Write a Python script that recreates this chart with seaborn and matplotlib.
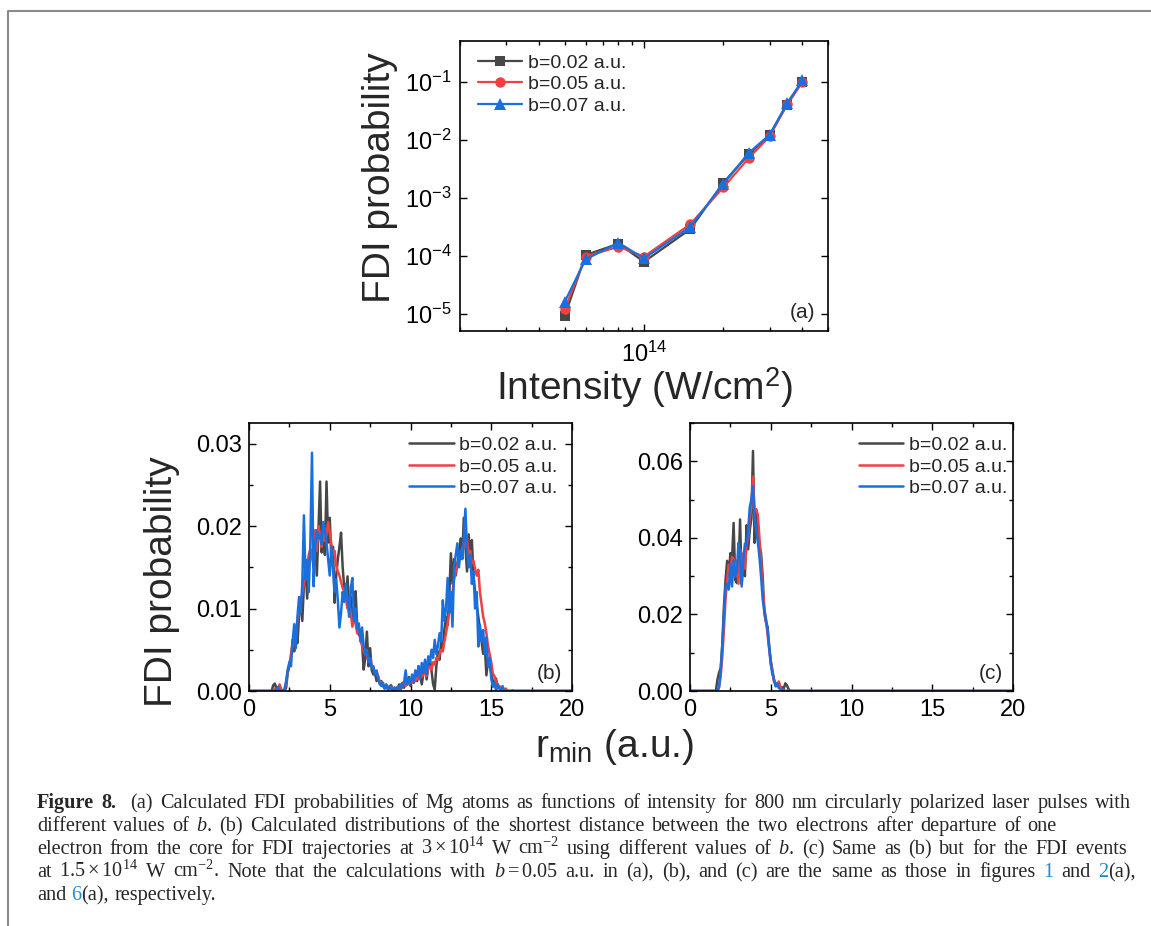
import numpy as np
import matplotlib.pyplot as plt
import seaborn as sns
from matplotlib.ticker import MultipleLocator, FormatStrFormatter, NullFormatter, NullLocator
from matplotlib.lines import Line2D

# ---- panel (a): FDI probability vs intensity ----
intensity = [5e13, 6e13, 8e13, 1e14, 1.5e14, 2e14, 2.5e14, 3e14, 3.5e14, 4e14]
fdi_b02 = [9.1e-6, 1.02e-4, 1.6e-4, 7.8e-5, 2.86e-4, 1.79e-3, 5.56e-3, 1.18e-2, 4.0e-2, 1.0e-1]
fdi_b05 = [1.19e-5, 9.6e-5, 1.42e-4, 9.6e-5, 3.48e-4, 1.49e-3, 4.8e-3, 1.13e-2, 4.1e-2, 1.0e-1]
fdi_b07 = [1.6e-5, 8.6e-5, 1.66e-4, 8.9e-5, 3.13e-4, 1.72e-3, 5.86e-3, 1.21e-2, 4.25e-2, 1.05e-1]

labels = ["b=0.02 a.u.", "b=0.05 a.u.", "b=0.07 a.u."]
colors = ["#474747", "#F14040", "#1A6FDF"]
markers = ["s", "o", "^"]

# ---- panel (b): r_min distribution at 3e14 W/cm2, bins 1.2 .. 16.8 step 0.1 ----
r_b = np.round(np.arange(1.2, 16.85, 0.1), 1)
dist_b02 = [
    0, 0, 0, 0.0007, 0.0009, 0.0003, 0, 0, 0, 0,
    0, 0.0004, 0.0022, 0.0030, 0.0040, 0.0062, 0.0048, 0.0075, 0.0058, 0.0092,
    0.0110, 0.0085, 0.0128, 0.0155, 0.0112, 0.0148, 0.0172, 0.0165, 0.0150, 0.0185,
    0.0140, 0.0195, 0.0254, 0.0168, 0.0190, 0.0165, 0.0254, 0.0180, 0.0210, 0.0160,
    0.0175, 0.0107, 0.0140, 0.0160, 0.0175, 0.0192, 0.0150, 0.0125, 0.0110, 0.0139,
    0.0098, 0.0115, 0.0085, 0.0100, 0.0121, 0.0080, 0.0068, 0.0072, 0.0058, 0.0026,
    0.0040, 0.0072, 0.0030, 0.0052, 0.0025, 0.0020, 0.0022, 0.0012, 0.0018, 0.0008,
    0.0012, 0.0006, 0.0003, 0.0008, 0.0002, 0.0005, 0.0007, 0.0002, 0.0004, 0,
    0.0003, 0.0008, 0.0002, 0.0010, 0.0004, 0.0012, 0.0008, 0.0017, 0.0006, 0.0015,
    0.0010, 0.0020, 0.0012, 0.0030, 0.0018, 0.0008, 0.0022, 0.0035, 0.0014, 0.0028,
    0.0040, 0.0025, 0.0008, 0.0002, 0.0030, 0.0048, 0.0038, 0.0060, 0.0052, 0.0075,
    0.0090, 0.0080, 0.0115, 0.0167, 0.0130, 0.0160, 0.0140, 0.0155, 0.0165, 0.0185,
    0.0160, 0.0210, 0.0175, 0.0145, 0.0190, 0.0160, 0.0183, 0.0140, 0.0120, 0.0105,
    0.0090, 0.0075, 0.0060, 0.0045, 0.0055, 0.0019, 0.0040, 0.0030, 0.0022, 0.0012,
    0.0008, 0.0015, 0.0004, 0.0006, 0, 0, 0, 0, 0, 0,
    0, 0, 0, 0, 0, 0, 0,
]
dist_b05 = [
    0, 0, 0, 0, 0.0003, 0, 0.0004, 0.0008, 0.0002, 0,
    0.0002, 0.0010, 0.0025, 0.0032, 0.0045, 0.0055, 0.0062, 0.0075, 0.0085, 0.0098,
    0.0105, 0.0118, 0.0130, 0.0142, 0.0150, 0.0165, 0.0172, 0.0160, 0.0178, 0.0195,
    0.0170, 0.0200, 0.0188, 0.0175, 0.0195, 0.0182, 0.0190, 0.0205, 0.0192, 0.0178,
    0.0165, 0.0170, 0.0152, 0.0145, 0.0140, 0.0132, 0.0125, 0.0120, 0.0112, 0.0100,
    0.0108, 0.0095, 0.0078, 0.0088, 0.0082, 0.0070, 0.0075, 0.0062, 0.0055, 0.0048,
    0.0050, 0.0042, 0.0036, 0.0040, 0.0030, 0.0028, 0.0022, 0.0025, 0.0016, 0.0012,
    0.0010, 0.0008, 0.0005, 0.0007, 0.0004, 0.0002, 0.0005, 0.0003, 0.0001, 0.0004,
    0.0002, 0.0005, 0.0003, 0.0007, 0.0010, 0.0006, 0.0012, 0.0008, 0.0013, 0.0010,
    0.0015, 0.0012, 0.0018, 0.0014, 0.0022, 0.0017, 0.0020, 0.0025, 0.0018, 0.0028,
    0.0030, 0.0026, 0.0035, 0.0032, 0.0040, 0.0038, 0.0045, 0.0050, 0.0048, 0.0060,
    0.0070, 0.0082, 0.0095, 0.0108, 0.0120, 0.0135, 0.0145, 0.0152, 0.0160, 0.0168,
    0.0172, 0.0180, 0.0175, 0.0185, 0.0165, 0.0170, 0.0155, 0.0158, 0.0148, 0.0140,
    0.0147, 0.0120, 0.0105, 0.0090, 0.0082, 0.0070, 0.0055, 0.0045, 0.0035, 0.0021,
    0.0018, 0.0012, 0.0008, 0.0005, 0.0004, 0.0002, 0.0001, 0.0003, 0, 0,
    0, 0.0001, 0, 0, 0, 0, 0,
]
dist_b07 = [
    0, 0, 0, 0, 0, 0.0002, 0.0005, 0.0001, 0, 0,
    0.0002, 0.0012, 0.0026, 0.0035, 0.0030, 0.0060, 0.0081, 0.0052, 0.0090, 0.0114,
    0.0095, 0.0130, 0.0213, 0.0135, 0.0159, 0.0120, 0.0180, 0.0289, 0.0127, 0.0175,
    0.0195, 0.0185, 0.0190, 0.0178, 0.0205, 0.0195, 0.0180, 0.0160, 0.0140, 0.0175,
    0.0150, 0.0120, 0.0135, 0.0110, 0.0077, 0.0095, 0.0120, 0.0108, 0.0130, 0.0112,
    0.0090, 0.0125, 0.0137, 0.0085, 0.0100, 0.0075, 0.0082, 0.0060, 0.0077, 0.0055,
    0.0045, 0.0050, 0.0035, 0.0040, 0.0028, 0.0030, 0.0020, 0.0024, 0.0014, 0.0010,
    0.0006, 0.0010, 0.0003, 0.0007, 0.0002, 0.0006, 0.0003, 0.0001, 0.0004, 0.0002,
    0.0005, 0.0002, 0.0008, 0.0004, 0.0010, 0.0025, 0.0008, 0.0015, 0.0010, 0.0020,
    0.0012, 0.0025, 0.0018, 0.0030, 0.0015, 0.0034, 0.0022, 0.0038, 0.0020, 0.0042,
    0.0035, 0.0050, 0.0040, 0.0062, 0.0045, 0.0055, 0.0070, 0.0060, 0.0110, 0.0085,
    0.0100, 0.0137, 0.0095, 0.0120, 0.0078, 0.0150, 0.0165, 0.0179, 0.0150, 0.0170,
    0.0160, 0.0185, 0.0221, 0.0170, 0.0150, 0.0165, 0.0130, 0.0145, 0.0100, 0.0120,
    0.0054, 0.0080, 0.0060, 0.0074, 0.0045, 0.0065, 0.0030, 0.0040, 0.0015, 0.0005,
    0.0010, 0, 0.0008, 0.0003, 0, 0.0006, 0, 0, 0, 0,
    0, 0, 0, 0, 0, 0, 0,
]

# ---- panel (c): r_min distribution at 1.5e14 W/cm2, bins 1.5 .. 6.5 step 0.1 ----
r_c = np.round(np.arange(1.5, 6.55, 0.1), 1)
dist_c02 = [
    0, 0, 0.0030, 0.0048, 0.0060, 0.0120, 0.0220, 0.0290, 0.0340, 0.0300,
    0.0360, 0.0340, 0.0439, 0.0290, 0.0282, 0.0310, 0.0448, 0.0280, 0.0350, 0.0300,
    0.0433, 0.0370, 0.0420, 0.0450, 0.0627, 0.0387, 0.0474, 0.0400, 0.0380, 0.0360,
    0.0300, 0.0204, 0.0180, 0.0168, 0.0120, 0.0080, 0.0055, 0.0030, 0.0016, 0.0020,
    0.0012, 0.0008, 0.0010, 0.0005, 0.0020, 0.0015, 0.0005, 0, 0, 0,
    0,
]
dist_c05 = [
    0, 0, 0, 0.0010, 0.0040, 0.0090, 0.0160, 0.0240, 0.0290, 0.0330,
    0.0310, 0.0350, 0.0345, 0.0300, 0.0340, 0.0280, 0.0370, 0.0330, 0.0360, 0.0320,
    0.0380, 0.0400, 0.0450, 0.0480, 0.0560, 0.0470, 0.0475, 0.0460, 0.0400, 0.0340,
    0.0270, 0.0220, 0.0185, 0.0150, 0.0110, 0.0075, 0.0050, 0.0025, 0.0018, 0.0012,
    0.0025, 0.0010, 0.0005, 0.0002, 0, 0, 0, 0, 0, 0,
    0,
]
dist_c07 = [
    0, 0, 0, 0.0010, 0.0050, 0.0120, 0.0200, 0.0273, 0.0280, 0.0265,
    0.0330, 0.0273, 0.0340, 0.0300, 0.0310, 0.0387, 0.0360, 0.0273, 0.0340, 0.0385,
    0.0380, 0.0420, 0.0480, 0.0500, 0.0535, 0.0450, 0.0420, 0.0390, 0.0350, 0.0300,
    0.0240, 0.0210, 0.0190, 0.0160, 0.0115, 0.0070, 0.0045, 0.0030, 0.0012, 0.0020,
    0.0008, 0.0005, 0.0003, 0, 0, 0, 0, 0, 0, 0,
    0,
]

sns.set_theme(style="ticks")
plt.rcParams["font.family"] = ["Liberation Sans", "DejaVu Sans"]
plt.rcParams["mathtext.fontset"] = "custom"
plt.rcParams["mathtext.rm"] = "Liberation Serif"
plt.rcParams["mathtext.it"] = "Liberation Serif:italic"
plt.rcParams["mathtext.bf"] = "Liberation Serif:bold"
plt.rcParams["axes.edgecolor"] = "black"
plt.rcParams["axes.linewidth"] = 1.2

W, H = 1151, 926
fig = plt.figure(figsize=(W / 100, H / 100), dpi=100)


def px_axes(x0, y0, x1, y1):
    return fig.add_axes([x0 / W, 1 - y1 / H, (x1 - x0) / W, (y1 - y0) / H])


def style_ticks(ax):
    ax.tick_params(which="both", direction="in", top=True, right=True,
                   colors="black", labelsize=17, width=1.0)
    ax.tick_params(which="major", length=5)
    ax.tick_params(which="minor", length=3)


# (a)
ax_a = px_axes(460, 41, 828, 331)
for lab, vals, c, m in zip(labels, [fdi_b02, fdi_b05, fdi_b07], colors, markers):
    sns.lineplot(x=intensity, y=vals, color=c, marker=m, markersize=8.5 if m == "^" else 7.5,
                 markeredgewidth=0, lw=1.6, label=lab, ax=ax_a)
ax_a.set_xscale("log")
ax_a.set_yscale("log")
ax_a.set_xlim(2e13, 5e14)
ax_a.set_ylim(5e-6, 0.5)
ax_a.yaxis.set_minor_locator(NullLocator())
ax_a.xaxis.set_minor_formatter(NullFormatter())
style_ticks(ax_a)
ax_a.tick_params(axis="x", pad=8)
ax_a.tick_params(axis="y", pad=6)
ax_a.set_xlabel(r"Intensity (W/cm$^{\mathdefault{2}}$)", fontsize=28)
ax_a.xaxis.set_label_coords(0.5, -0.12)
ax_a.xaxis.label.set_va("top")
ax_a.set_ylabel("FDI probability", fontsize=28)
ax_a.yaxis.set_label_coords(-0.1685, 0.53)
ax_a.legend(loc="upper left", bbox_to_anchor=(0.0, 1.015), frameon=False, fontsize=14,
            handlelength=2.3, handletextpad=0.3, labelspacing=0.2, borderaxespad=0.5)
ax_a.text(0.965, 0.065, "(a)", transform=ax_a.transAxes, ha="right", va="center", fontsize=15)


def draw_dist(ax, r, series, ymax, ystep, tag):
    for lab, vals, c in zip(labels, series, colors):
        sns.lineplot(x=[0.0, *r, 20.0], y=[0.0, *vals, 0.0], color=c, lw=1.8,
                     label=lab, ax=ax, estimator=None)
    ax.set_xlim(0, 20)
    ax.set_ylim(0, ymax)
    ax.xaxis.set_major_locator(MultipleLocator(5))
    ax.xaxis.set_minor_locator(MultipleLocator(2.5))
    ax.yaxis.set_major_locator(MultipleLocator(ystep))
    ax.yaxis.set_minor_locator(MultipleLocator(ystep / 2))
    ax.yaxis.set_major_formatter(FormatStrFormatter("%.2f"))
    style_ticks(ax)
    ax.tick_params(axis="x", pad=6)
    ax.tick_params(axis="y", pad=5)
    ax.set_xlabel("")
    ax.set_ylabel("")
    ax.text(0.97, 0.065, tag, transform=ax.transAxes, ha="right", va="center", fontsize=15)


ax_b = px_axes(249, 423, 572, 691)
draw_dist(ax_b, r_b, [dist_b02, dist_b05, dist_b07], 0.0325, 0.01, "(b)")
ax_b.legend(loc="upper right", bbox_to_anchor=(0.998, 1.0), frameon=False, fontsize=14,
            handlelength=2.3, handletextpad=0.3, labelspacing=0.2, borderaxespad=0.3)
ax_b.set_ylabel("FDI probability", fontsize=28)
ax_b.yaxis.set_label_coords(-0.2136, 0.407)

ax_c = px_axes(690, 423, 1013, 691)
draw_dist(ax_c, r_c, [dist_c02, dist_c05, dist_c07], 0.07, 0.02, "(c)")
ax_c.legend(loc="upper right", bbox_to_anchor=(1.025, 1.0), frameon=False, fontsize=14,
            handlelength=2.3, handletextpad=0.3, labelspacing=0.2, borderaxespad=0.3)

fig.text(535 / W, 1 - 757 / H, r"$\mathdefault{r}_{\mathdefault{min}}$ (a.u.)",
         fontsize=28, ha="left", va="baseline")

# page frame lines
fig.add_artist(Line2D([8 / W, 8 / W, 1.0], [0.0, 1 - 11 / H, 1 - 11 / H],
                      transform=fig.transFigure, color="#8a8a8a", lw=1.5))

# caption, set word by word so that full lines can be justified
renderer = fig.canvas.get_renderer()
cap_fs = 14.6
cap_font = ["Liberation Serif", "DejaVu Serif"]
probe = fig.text(0, 0, "a a", fontsize=cap_fs, family=cap_font)
probe2 = fig.text(0, 0, "aa", fontsize=cap_fs, family=cap_font)
space_w = probe.get_window_extent(renderer).width - probe2.get_window_extent(renderer).width
probe.remove()
probe2.remove()
blue = {"color": "#1a8fd8"}
bold = {"weight": "bold"}


def words_of(text, kw=None):
    return [[(w, kw or {})] for w in text.split(" ")]


def caption_line(y, words, right=None, x0=37, wide_after=None):
    placed = []
    for word in words:
        segs = []
        for s, kw in word:
            t = fig.text(0, 1 - y / H, s, fontsize=cap_fs, family=cap_font,
                         ha="left", va="baseline", **kw)
            segs.append((t, t.get_window_extent(renderer).width))
        placed.append(segs)
    weights = [1.0] * (len(placed) - 1)
    if wide_after is not None:
        weights[wide_after] = 2.0
    total = sum(w for segs in placed for _, w in segs)
    gap = space_w if right is None else max(space_w * 0.8, (right - x0 - total) / sum(weights))
    x = x0
    for i, segs in enumerate(placed):
        for t, w in segs:
            t.set_x(x / W)
            x += w
        if i < len(weights):
            x += gap * weights[i]


caption_line(808, words_of("Figure 8.", bold)
             + words_of("(a) Calculated FDI probabilities of Mg atoms as functions of intensity "
                        "for 800 nm circularly polarized laser pulses with"),
             right=1131, wide_after=1)
caption_line(831, words_of("different values of $b$. (b) Calculated distributions of the shortest "
                           "distance between the two electrons after departure of one"),
             right=1057)
caption_line(854, words_of(r"electron from the core for FDI trajectories at $3\times10^{14}$ W "
                           r"cm$^{-2}$ using different values of $b$. (c) Same as (b) but for "
                           r"the FDI events"),
             right=1127)
caption_line(877, words_of(r"at $1.5\times10^{14}$ W cm$^{-2}$. Note that the calculations with "
                           r"$b=0.05$ a.u. in (a), (b), and (c) are the same as those in figures")
             + [[("1", blue)], [("and", {})], [("2", blue), ("(a),", {})]],
             right=1136)
caption_line(900, [[("and", {})], [("6", blue), ("(a),", {})], [("respectively.", {})]])

fig.savefig("out.png", dpi=100)
